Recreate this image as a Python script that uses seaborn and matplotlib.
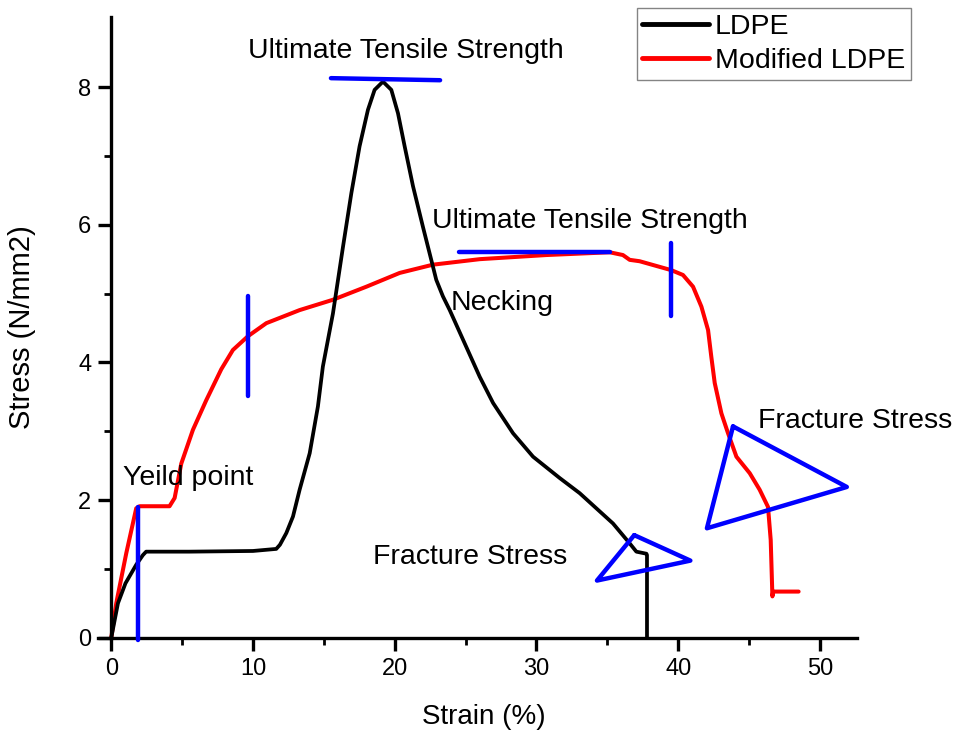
import matplotlib
matplotlib.use("Agg")
import matplotlib.pyplot as plt
import seaborn as sns
import pandas as pd

# ---- data ----
ldpe_strain = [0, 0.47, 1.0, 1.76, 2.23, 2.46, 5.5, 10.0, 11.64, 11.9, 12.35, 12.82, 13.29,
               14.0, 14.58, 14.93, 15.64, 16.35, 16.94, 17.52, 18.11, 18.58, 19.17, 19.76,
               20.23, 20.70, 21.29, 21.99, 22.70, 22.93, 23.40, 23.88, 24.82, 26.0, 26.94,
               28.35, 29.76, 31.64, 33.05, 35.4, 36.58, 37.05, 37.76, 37.8, 37.8]
ldpe_stress = [0, 0.5, 0.79, 1.06, 1.2, 1.25, 1.25, 1.26, 1.29, 1.35, 1.52, 1.76, 2.15,
               2.68, 3.36, 3.94, 4.71, 5.68, 6.46, 7.14, 7.67, 7.96, 8.08, 7.96,
               7.62, 7.14, 6.56, 5.97, 5.39, 5.20, 4.96, 4.76, 4.33, 3.79, 3.41,
               2.97, 2.63, 2.32, 2.10, 1.66, 1.37, 1.25, 1.22, 1.2, 0]

mod_strain = [0, 0.35, 1.06, 1.76, 2.0, 4.11, 4.47, 4.94, 5.76, 6.70, 7.76, 8.58, 9.64,
              10.94, 13.29, 15.64, 18.0, 20.35, 22.7, 26.0, 30.7, 35.17, 36.1, 36.58,
              37.28, 39.52, 40.34, 41.05, 41.64, 42.11, 42.34, 42.58, 43.05, 43.52, 44.11,
              45.05, 45.75, 46.34, 46.53, 46.65, 46.7, 48.5]
mod_stress = [0, 0.5, 1.23, 1.88, 1.91, 1.91, 2.03, 2.53, 3.02, 3.45, 3.9, 4.18, 4.38,
              4.57, 4.76, 4.91, 5.10, 5.30, 5.42, 5.50, 5.56, 5.60, 5.56, 5.49,
              5.47, 5.34, 5.27, 5.10, 4.81, 4.47, 4.08, 3.70, 3.26, 2.97, 2.63,
              2.39, 2.15, 1.90, 1.42, 0.60, 0.67, 0.67]

series_names = ["LDPE", "Modified LDPE"]

# blue hand-drawn markers
uts1_x, uts1_y = [15.5, 23.2], [8.13, 8.10]
uts2_x, uts2_y = [24.5, 35.2], [5.60, 5.60]
yield_x, yield_y = [1.9, 1.9], [1.90, -0.04]
mark2_x, mark2_y = [9.64, 9.64], [4.96, 3.51]
mark3_x, mark3_y = [39.5, 39.5], [5.74, 4.68]
tri1_x, tri1_y = [36.9, 40.86, 34.27, 36.9], [1.49, 1.12, 0.83, 1.49]
tri2_x, tri2_y = [43.87, 51.9, 42.03, 43.87], [3.07, 2.19, 1.59, 3.07]

notes = ["Ultimate Tensile Strength", "Ultimate Tensile Strength", "Necking",
         "Yeild point", "Fracture Stress", "Fracture Stress"]
notes_x = [20.77, 33.75, 27.6, 5.46, 25.35, 52.5]
notes_y = [8.43, 5.95, 4.76, 2.22, 1.07, 3.04]

x_major = [0, 10, 20, 30, 40, 50]
y_major = [0, 2, 4, 6, 8]

# ---- styling ----
sns.set_style("ticks")
plt.rcParams["font.family"] = ["Liberation Sans", "DejaVu Sans"]
plt.rcParams["text.color"] = "black"
plt.rcParams["axes.labelcolor"] = "black"
plt.rcParams["xtick.color"] = "black"
plt.rcParams["ytick.color"] = "black"
plt.rcParams["axes.edgecolor"] = "black"

fig = plt.figure(figsize=(9.61, 7.35), dpi=100)
ax = fig.add_axes([0.1015, 0.1324, 0.79, 0.8446])

df_ldpe = pd.DataFrame({"Strain": ldpe_strain, "Stress": ldpe_stress})
df_mod = pd.DataFrame({"Strain": mod_strain, "Stress": mod_stress})

sns.lineplot(data=df_ldpe, x="Strain", y="Stress", sort=False, estimator=None,
             color="black", lw=2.7, ax=ax, label=series_names[0], zorder=3)
sns.lineplot(data=df_mod, x="Strain", y="Stress", sort=False, estimator=None,
             color="#ff0000", lw=2.9, ax=ax, label=series_names[1], zorder=2)

blue = "#0000ff"
for xs, ys in [(uts1_x, uts1_y), (uts2_x, uts2_y), (yield_x, yield_y), (mark2_x, mark2_y),
               (mark3_x, mark3_y), (tri1_x, tri1_y), (tri2_x, tri2_y)]:
    ax.plot(xs, ys, color=blue, lw=3.2, solid_capstyle="round", solid_joinstyle="round",
            zorder=4, clip_on=False)

for t, x, y in zip(notes, notes_x, notes_y):
    ax.text(x, y, t, ha="center", va="baseline", fontsize=20.5, color="black", zorder=5)

ax.set_xlim(-0.97, 52.6)
ax.set_ylim(0, 9.02)
ax.spines["left"].set_position(("data", 0))
ax.spines["right"].set_visible(False)
ax.spines["top"].set_visible(False)
for s in ["left", "bottom"]:
    ax.spines[s].set_linewidth(2.4)
    ax.spines[s].set_color("black")

ax.set_xticks(x_major)
ax.set_yticks(y_major)
ax.set_xticks([5, 15, 25, 35, 45], minor=True)
ax.set_yticks([1, 3, 5, 7], minor=True)
ax.tick_params(which="major", direction="out", length=9.5, width=2.4, labelsize=17,
               pad=5, colors="black")
ax.tick_params(which="minor", direction="out", length=5, width=2.0, colors="black")

ax.set_xlabel("Strain (%)", fontsize=20)
ax.set_ylabel("Stress (N/mm2)", fontsize=21)
ax.xaxis.set_label_coords(0.509, -0.107)
ax.yaxis.set_label_coords(-0.081, 0.5)

leg = ax.legend(loc="upper right", bbox_to_anchor=(0.948, 0.989),
                bbox_transform=fig.transFigure, fontsize=20.5, frameon=True,
                fancybox=False, borderpad=0.2, labelspacing=0.3, handlelength=2.35,
                handletextpad=0.2, borderaxespad=0)
leg.get_frame().set_edgecolor("0.4")
leg.get_frame().set_linewidth(1.0)
for h in leg.get_lines():
    h.set_linewidth(3.5)

fig.savefig("out.png", dpi=100)
